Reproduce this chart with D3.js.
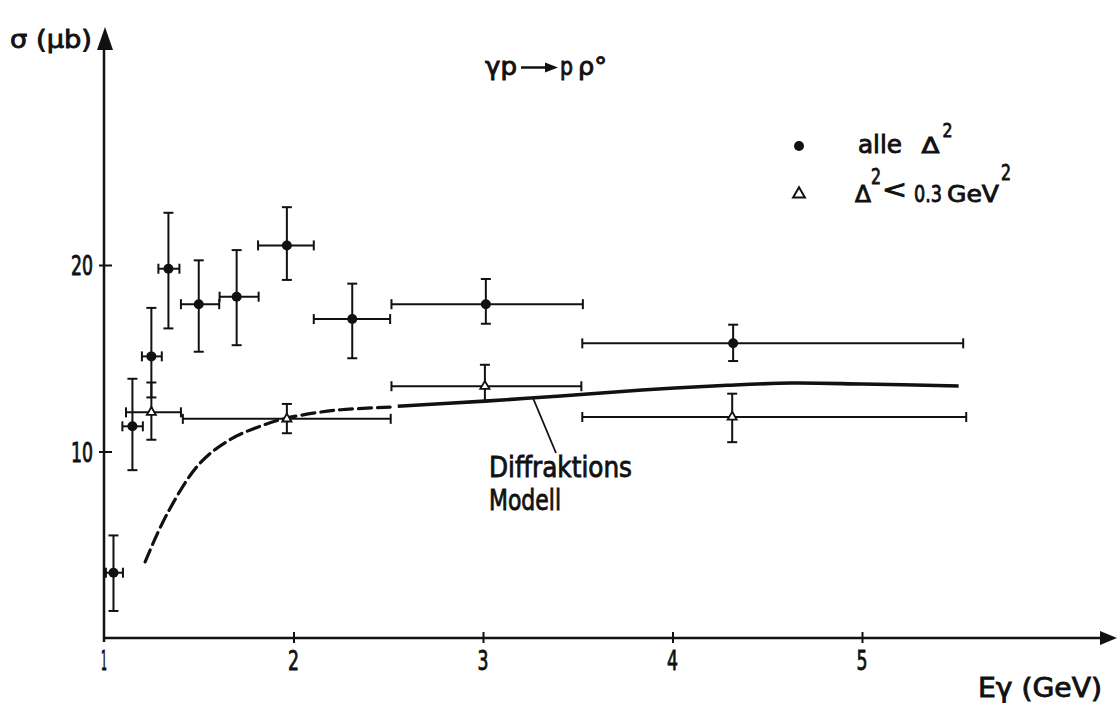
<!DOCTYPE html>
<html><head><meta charset="utf-8">
<script src="https://cdn.jsdelivr.net/npm/d3@7/dist/d3.min.js"></script>
<style>
html,body{margin:0;padding:0;background:#fff;}
svg{display:block;}
text{font-family:"DejaVu Sans Condensed","DejaVu Sans",sans-serif;fill:#111;}
</style>
</head><body>
<svg id="c" width="1117" height="703"></svg>
<script>
// ---- data ----
const xTickValues = [1, 2, 3, 4, 5];
const yTickValues = [10, 20];

// "alle Δ²" (filled dots)
const allE     = [1.05, 1.15, 1.25, 1.34, 1.50, 1.70, 1.965, 2.31, 3.015, 4.32];
const allELo   = [1.01, 1.097, 1.20, 1.287, 1.406, 1.61, 1.813, 2.107, 2.517, 3.524];
const allEHi   = [1.10, 1.205, 1.305, 1.398, 1.608, 1.816, 2.107, 2.51, 3.527, 5.534];
const allSigma = [3.5, 11.35, 15.1, 19.8, 17.9, 18.3, 21.05, 17.1, 17.9, 15.8];
const allSLo   = [1.45, 9.0, 12.9, 16.6, 15.35, 15.7, 19.2, 15.0, 16.85, 14.85];
const allSHi   = [5.5, 13.9, 17.7, 22.8, 20.25, 20.8, 23.1, 19.0, 19.25, 16.8];

// "Δ² < 0.3 GeV²" (open triangles)
const lowE     = [1.25, 1.965, 3.01, 4.315];
const lowELo   = [1.116, 1.416, 2.517, 3.524];
const lowEHi   = [1.406, 2.513, 3.519, 5.55];
const lowSigma = [12.1, 11.75, 13.5, 11.85];
const lowSLo   = [10.63, 10.98, 12.7, 10.5];
const lowSHi   = [13.7, 12.55, 14.65, 13.1];

// Diffraction model curve
const modelDashE = [1.217, 1.33, 1.5, 1.667, 1.85, 1.96, 2.12, 2.25, 2.51];
const modelDashS = [4.08, 6.6, 9.3, 10.65, 11.45, 11.78, 12.08, 12.24, 12.38];
const modelSolidE = [2.55, 3.01, 3.41, 3.84, 4.29, 4.63, 5.0, 5.51];
const modelSolidS = [12.43, 12.7, 12.98, 13.3, 13.55, 13.67, 13.62, 13.51];

// ---- drawing ----
const svg = d3.select("#c");
const x = d3.scaleLinear().domain([1, 5]).range([104, 862]);
const y = d3.scaleLinear().domain([0, 20]).range([638, 265]);
const ink = "#111";

function label(str, px, py, size, len, anchor) {
  const t = svg.append("text").attr("x", px).attr("y", py)
    .attr("font-size", size).attr("text-anchor", anchor || "start")
    .style("stroke", ink).style("stroke-width", 0.8)
    .text(str);
  if (len) t.attr("textLength", len).attr("lengthAdjust", "spacingAndGlyphs");
  return t;
}

// axes lines
svg.append("line").attr("x1", x(1)).attr("x2", 1102).attr("y1", y(0)).attr("y2", y(0))
  .attr("stroke", ink).attr("stroke-width", 2.5);
svg.append("path").attr("d", "M1100,631 L1117,638 L1100,645 Z").attr("fill", ink);
svg.append("line").attr("x1", x(1)).attr("x2", x(1)).attr("y1", y(0) + 4).attr("y2", 48)
  .attr("stroke", ink).attr("stroke-width", 2.5);
svg.append("path").attr("d", "M97,50 L105,27 L113,50 Z").attr("fill", ink);

// x axis ticks via d3 axis
const xAxis = d3.axisBottom(x).tickValues(xTickValues.slice(1)).tickSize(5).tickFormat("");
const gx = svg.append("g").attr("transform", `translate(0,${y(0)})`).call(xAxis);
gx.select(".domain").remove();
gx.selectAll(".tick line").attr("y1", -6).attr("y2", 5).attr("stroke", ink).attr("stroke-width", 2);
xTickValues.forEach(v => label(String(v), x(v), 670, 26, v === 1 ? 6 : 11, "middle"));

const yAxis = d3.axisLeft(y).tickValues(yTickValues).tickSize(5).tickFormat("");
const gy = svg.append("g").attr("transform", `translate(${x(1)},0)`).call(yAxis);
gy.select(".domain").remove();
gy.selectAll(".tick line").attr("x1", -5).attr("x2", 8).attr("stroke", ink).attr("stroke-width", 2);
yTickValues.forEach(v => label(String(v), 93, y(v) + 10, 26, 22, "end"));

// axis titles
label("σ (μb)", 10, 48, 25, 82);
label("Eγ (GeV)", 978, 697, 26, 124);

// title  γp → p ρ°
label("γp", 485, 75, 24, 32);
svg.append("line").attr("x1", 521).attr("x2", 548).attr("y1", 67.5).attr("y2", 67.5)
  .attr("stroke", ink).attr("stroke-width", 2.5);
svg.append("path").attr("d", "M545,62.5 L558,67.5 L545,72.5 Z").attr("fill", ink);
label("p", 560, 75, 24, 13);
label("ρ°", 578, 75, 24, 29);

// error bars helper
function errorBars(E, ELo, EHi, S, SLo, SHi) {
  const g = svg.append("g").attr("stroke", ink).attr("stroke-width", 2).attr("fill", "none");
  E.forEach((e, i) => {
    const cx = x(e), cy = y(S[i]);
    const yl = y(SLo[i]), yh = y(SHi[i]);
    const xl = x(ELo[i]), xh = x(EHi[i]);
    g.append("line").attr("x1", cx).attr("x2", cx).attr("y1", yl).attr("y2", yh);
    g.append("line").attr("x1", cx - 5).attr("x2", cx + 5).attr("y1", yl).attr("y2", yl);
    g.append("line").attr("x1", cx - 5).attr("x2", cx + 5).attr("y1", yh).attr("y2", yh);
    g.append("line").attr("x1", xl).attr("x2", xh).attr("y1", cy).attr("y2", cy);
    g.append("line").attr("x1", xl).attr("x2", xl).attr("y1", cy - 5).attr("y2", cy + 5);
    g.append("line").attr("x1", xh).attr("x2", xh).attr("y1", cy - 5).attr("y2", cy + 5);
  });
}
errorBars(allE, allELo, allEHi, allSigma, allSLo, allSHi);
errorBars(lowE, lowELo, lowEHi, lowSigma, lowSLo, lowSHi);

// model curve
const lineGen = d3.line().x(d => x(d[0])).y(d => y(d[1])).curve(d3.curveCatmullRom.alpha(0.5));
svg.append("path").attr("d", lineGen(modelDashE.map((e, i) => [e, modelDashS[i]])))
  .attr("fill", "none").attr("stroke", ink).attr("stroke-width", 3.2)
  .attr("stroke-dasharray", "13,6").attr("stroke-linecap", "round");
svg.append("path").attr("d", lineGen(modelSolidE.map((e, i) => [e, modelSolidS[i]])))
  .attr("fill", "none").attr("stroke", ink).attr("stroke-width", 3.6);

// markers
svg.append("g").selectAll("circle").data(allE).join("circle")
  .attr("cx", d => x(d)).attr("cy", (d, i) => y(allSigma[i])).attr("r", 5).attr("fill", ink);
const tri = d3.symbol().type(d3.symbolTriangle).size(36);
svg.append("g").selectAll("path").data(lowE).join("path")
  .attr("transform", (d, i) => `translate(${x(d)},${y(lowSigma[i])})`)
  .attr("d", tri).attr("fill", "#fff").attr("stroke", ink).attr("stroke-width", 1.8);

// annotation
svg.append("line").attr("x1", 533).attr("y1", 398).attr("x2", 556).attr("y2", 453)
  .attr("stroke", ink).attr("stroke-width", 1.8);
label("Diffraktions", 489, 477, 29, 143);
label("Modell", 489, 510, 29, 72);

// legend
svg.append("circle").attr("cx", 799).attr("cy", 146).attr("r", 5).attr("fill", ink);
label("alle", 858, 153, 24, 44);
label("Δ", 921.5, 153, 22, 18);
label("2", 942.5, 137, 20, 10);
svg.append("path").attr("d", d3.symbol().type(d3.symbolTriangle).size(60))
  .attr("transform", "translate(799,194)").attr("fill", "#fff").attr("stroke", ink).attr("stroke-width", 2);
label("Δ", 855, 201.7, 23, 16);
label("2", 871, 184, 21, 10);
label("<", 882, 198, 24, 25);
label("0.3", 914, 201.7, 23, 28);
label("GeV", 947, 201.7, 23, 52);
label("2", 1001, 180, 21, 10);
</script>
</body></html>
